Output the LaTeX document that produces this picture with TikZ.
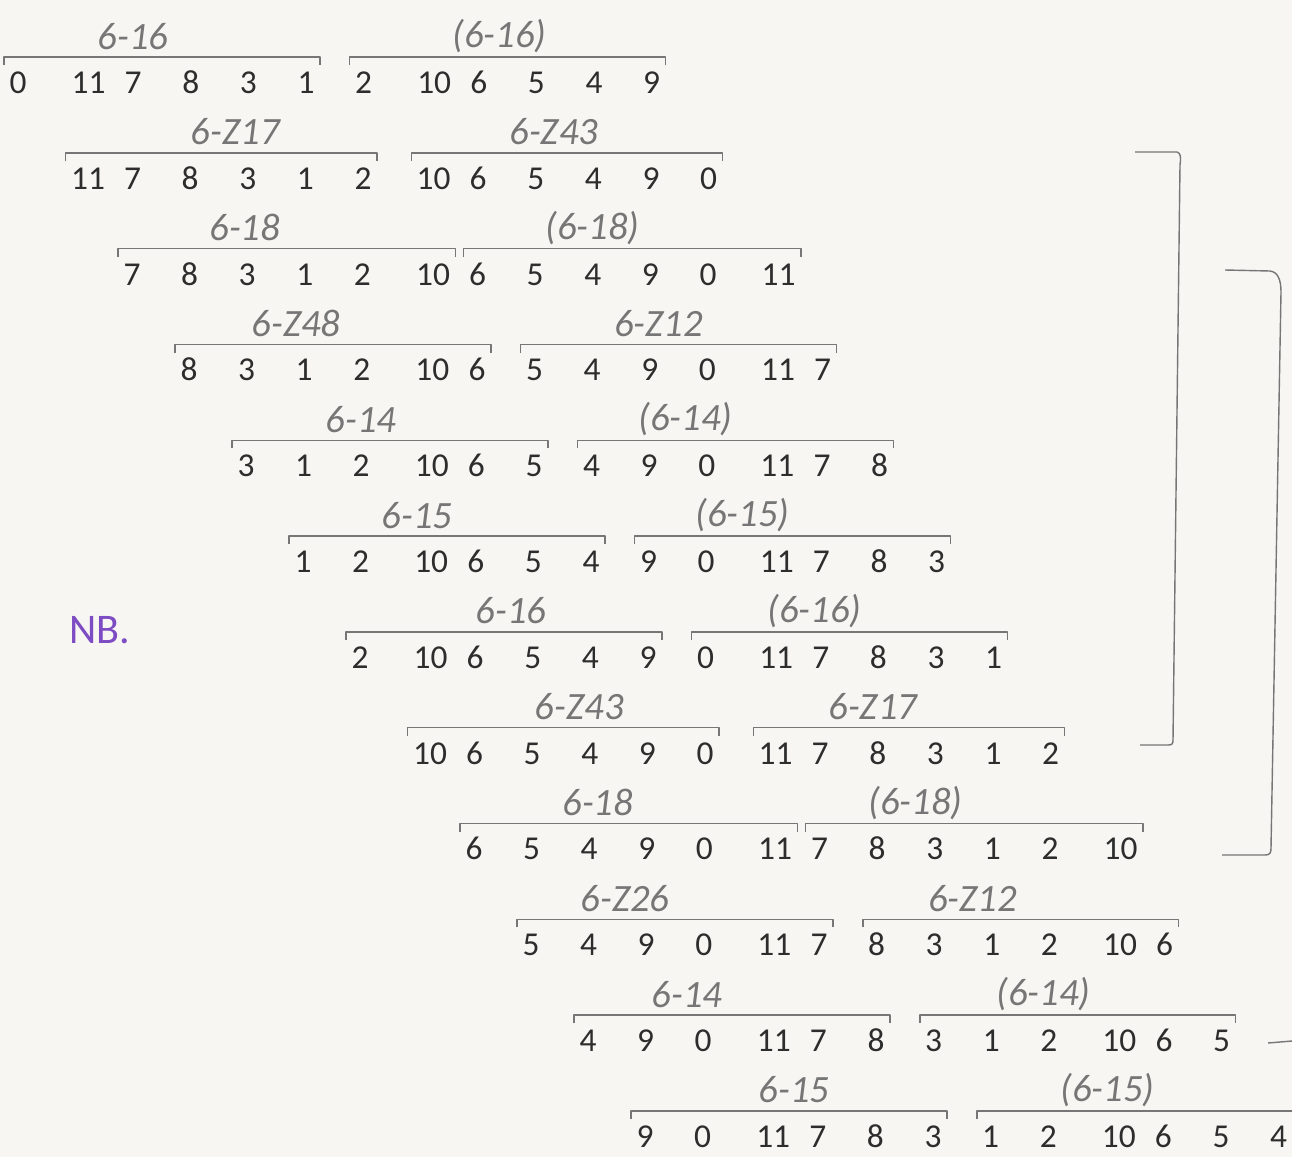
\documentclass[tikz,border=0pt]{standalone}
\usepackage{fontspec}
\setmainfont{Carlito}
\usetikzlibrary{calc}

\definecolor{paper}{RGB}{247,246,242}
\definecolor{pencil}{RGB}{118,118,118}
\definecolor{typeink}{RGB}{45,45,45}
\definecolor{nbink}{RGB}{125,75,195}

% one rotation of the row: 12 pitch classes, two hexachords, two set names
% #1 row number, #2 pitch classes, #3/#4 left name and its shift, #5/#6 right name and its shift
\newcommand{\hexrow}[6]{%
  \foreach \pc [count=\k from 0] in {#2}{%
    \pgfmathsetmacro{\px}{18+57*(#1-1)+57.6*\k+13*(\pc>9)}
    \pgfmathsetmacro{\py}{83+95.8*(#1-1)}
    \node[pitch] (r#1n\k) at (\px,\py) {\pc};
  }
  % first hexachord
  \draw[hexbar] ($(r#1n0.north west)+(-5,-7)$) -- ++(0,-8) -| ($(r#1n5.north east)+(5,-7)$);
  \node[setname] (r#1a) at ($(r#1n0.north west)!0.5!(r#1n5.north east)+(#4,-36)$) {#3};
  % second hexachord
  \draw[hexbar] ($(r#1n6.north west)+(-5,-7)$) -- ++(0,-8) -| ($(r#1n11.north east)+(5,-7)$);
  \node[setname] (r#1b) at ($(r#1n6.north west)!0.5!(r#1n11.north east)+(#6,-36)$) {#5};
}

\begin{document}
\begin{tikzpicture}[
    x=0.02cm, y=-0.02cm,
    % typed pitch classes
    pitch/.style={inner sep=0pt, text height=0.42cm, text depth=0pt,
        font=\fontsize{19}{19}\selectfont, text=typeink},
    % pencilled bracket over a hexachord
    hexbar/.style={draw=pencil, line width=0.8pt, line join=round},
    % pencilled set-class name
    setname/.style={inner sep=0pt, font=\fontsize{22}{22}\selectfont\itshape, text=pencil}
]

    % ==========================
    % Sheet
    % ==========================
    \fill[paper] (0,0) rectangle (1292,1157);
    \useasboundingbox (0,0) rectangle (1292,1157);

    % ==========================
    % Rotations of the row
    % ==========================
    \hexrow{1}{0,11,7,8,3,1,2,10,6,5,4,9}{6-16}{-29}{(6-16)}{-8}
    \hexrow{2}{11,7,8,3,1,2,10,6,5,4,9,0}{6-Z17}{14}{6-Z43}{-13}
    \hexrow{3}{7,8,3,1,2,10,6,5,4,9,0,11}{6-18}{-42}{(6-18)}{-40}
    \hexrow{4}{8,3,1,2,10,6,5,4,9,0,11,7}{6-Z48}{-37}{6-Z12}{-20}
    \hexrow{5}{3,1,2,10,6,5,4,9,0,11,7,8}{6-14}{-29}{(6-14)}{-50}
    \hexrow{6}{1,2,10,6,5,4,9,0,11,7,8,3}{6-15}{-30}{(6-15)}{-50}
    \hexrow{7}{2,10,6,5,4,9,0,11,7,8,3,1}{6-16}{7}{(6-16)}{-35}
    \hexrow{8}{10,6,5,4,9,0,11,7,8,3,1,2}{6-Z43}{16}{6-Z17}{-36}
    \hexrow{9}{6,5,4,9,0,11,7,8,3,1,2,10}{6-18}{-31}{(6-18)}{-59}
    \hexrow{10}{5,4,9,0,11,7,8,3,1,2,10,6}{6-Z26}{-50}{6-Z12}{-48}
    \hexrow{11}{4,9,0,11,7,8,3,1,2,10,6,5}{6-14}{-45}{(6-14)}{-34}
    \hexrow{12}{9,0,11,7,8,3,1,2,10,6,5,4}{6-15}{5}{(6-15)}{-27}

    % ==========================
    % Margin note
    % ==========================
    \node[font=\fontsize{24}{24}\selectfont, text=nbink] (nb) at (100,630) {NB.};

    % ==========================
    % Brackets on the right
    % ==========================
    \draw[hexbar] (1135,152) -- (1177,152) .. controls (1181,153) and (1181,158) .. (1180,165)
        -- (1173,740) .. controls (1173,744) and (1172,745) .. (1168,745) -- (1140,745);
    \draw[hexbar] (1225,270) -- (1270,271) .. controls (1278,272) and (1281,280) .. (1281,292)
        -- (1271,848) .. controls (1271,853) and (1270,855) .. (1265,855) -- (1222,855);
    \draw[hexbar] (1268,1043) -- (1292,1041);

\end{tikzpicture}
\end{document}
